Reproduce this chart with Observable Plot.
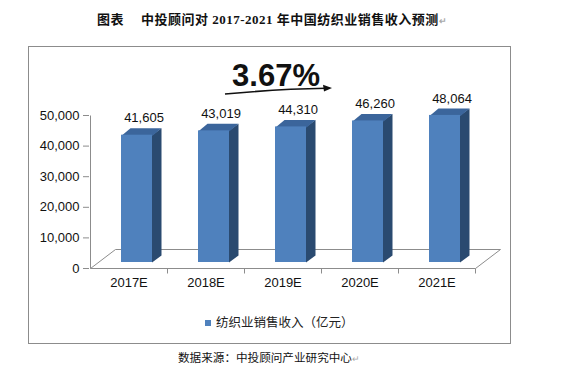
<!DOCTYPE html>
<html>
<head>
<meta charset="utf-8">
<script src="https://cdn.jsdelivr.net/npm/d3@7"></script>
<script src="https://cdn.jsdelivr.net/npm/@observablehq/plot@0.6"></script>
<style>
  html, body { margin: 0; padding: 0; background: #fff; }
  #wrap { position: relative; width: 577px; height: 384px; background: #fff; overflow: hidden; }
  .title { position: absolute; left: 97px; top: 11px; height: 17px; line-height: 17px; white-space: nowrap; letter-spacing: 0.5px;
           font-family: "Liberation Serif", "Noto Sans CJK SC", serif; font-weight: bold; font-size: 13px; color: #111; }
  .box { position: absolute; left: 28px; top: 46px; width: 481px; height: 296px; border: 1px solid #8c8c8c; }
  #chart { position: absolute; left: 0; top: 34px; }
  .legend { position: absolute; left: 205px; top: 313px; height: 18px; line-height: 18px; white-space: nowrap;
            font-family: "Noto Sans CJK SC", sans-serif; font-size: 12.5px; color: #222; }
  .legend .sw { display: inline-block; width: 6px; height: 6px; background: #4f81bd; margin-right: 5px; vertical-align: 1px; }
  .caption { position: absolute; left: 178px; top: 348px; height: 18px; line-height: 18px; white-space: nowrap;
             font-family: "Noto Sans CJK SC", sans-serif; font-size: 11.6px; color: #111; }
  .pm { color: #aaa; font-size: 9px; letter-spacing: 0; }
</style>
</head>
<body>
<div id="wrap">
  <div class="title">图表<span style="display:inline-block;width:17px"></span>中投顾问对 2017-2021 年中国纺织业销售收入预测<span class="pm">↵</span></div>
  <div class="box"></div>
  <div id="chart"></div>
  <div class="legend"><span class="sw"></span><span id="legtext"></span></div>
  <div class="caption">数据来源：中投顾问产业研究中心<span class="pm">↵</span></div>
</div>
<script>
// ---- data ----
const categories = ["2017E", "2018E", "2019E", "2020E", "2021E"];
const revenue = [41605, 43019, 44310, 46260, 48064];
const yTicks = [0, 10000, 20000, 30000, 40000, 50000];
const seriesName = "纺织业销售收入（亿元）";

document.getElementById("legtext").textContent = seriesName;

const data = categories.map((c, i) => ({cat: c, value: revenue[i]}));
const cagr = Math.pow(revenue[revenue.length - 1] / revenue[0], 1 / (revenue.length - 1)) - 1;
const cagrLabel = (cagr * 100).toFixed(2) + "%";

// ---- styling ----
const FRONT = "#4f81bd", SIDE = "#2a4a70", TOP = "#3b659b";
const INSET = 23, BAR_DX = 8, BAR_DY = -6, DEP_X = 9, DEP_Y = -7;
const FLOOR_X = 25, FLOOR_Y = -19;
const LINE = "#8c8c8c";
const off = 0.5;

function bandwidthOf(x, dims) {
  return typeof x.bandwidth === "function" ? x.bandwidth()
    : (dims.width - dims.marginLeft - dims.marginRight) / categories.length;
}

// floor + axis lines
function floorMark(index, scales, values, dims) {
  const x = scales.x, y = scales.y;
  const bw = bandwidthOf(x, dims);
  const x0 = x(categories[0]), x1 = x(categories[categories.length - 1]) + bw;
  const y0 = y(0);
  const g = d3.create("svg:g").attr("fill", "none").attr("stroke", LINE).attr("stroke-width", 1)
    .attr("transform", `translate(${off},${off})`);
  g.append("path").attr("d",
    `M${x0},${y0}L${x0 + FLOOR_X},${y0 + FLOOR_Y}L${x1 + FLOOR_X},${y0 + FLOOR_Y}L${x1},${y0}`);
  g.append("path").attr("d", `M${x0},${y(yTicks[yTicks.length - 1])}L${x0},${y0}L${x1},${y0}`);
  categories.forEach(c => {
    const xe = x(c) + bw;
    g.append("path").attr("d", `M${xe},${y0}L${xe},${y0 + 5}`);
  });
  return g.node();
}

// 3D side + top faces
function depthFaces(index, scales, values, dims) {
  const x = scales.x, y = scales.y;
  const bw = bandwidthOf(x, dims);
  const g = d3.create("svg:g").attr("transform", `translate(${off},${off})`);
  data.forEach(d => {
    const L = x(d.cat) + INSET + BAR_DX, R = x(d.cat) + bw - INSET + BAR_DX;
    const yb = y(0) + BAR_DY, yt = y(d.value) + BAR_DY;
    g.append("path").attr("fill", SIDE)
      .attr("d", `M${R - 0.5},${yb}L${R + DEP_X},${yb + DEP_Y}L${R + DEP_X},${yt + DEP_Y}L${R - 0.5},${yt}Z`);
    g.append("path").attr("fill", TOP)
      .attr("d", `M${L},${yt + 0.5}L${L + DEP_X},${yt + DEP_Y}L${R + DEP_X},${yt + DEP_Y}L${R},${yt + 0.5}Z`);
  });
  return g.node();
}

// growth arrow
function growthArrow(index, scales, values, dims) {
  const ax = dims.marginLeft + 136, ay = dims.marginTop - 21;
  const bx = dims.marginLeft + 243, by = dims.marginTop - 27;
  const g = d3.create("svg:g");
  const mx = (ax + bx) / 2, my = (ay + by) / 2 - 2;
  g.append("path").attr("d", `M${ax},${ay}Q${mx},${my} ${bx - 6},${by + 0.3}`)
    .attr("fill", "none").attr("stroke", "#111").attr("stroke-width", 1.6);
  g.append("path").attr("d", `M${bx},${by}L${bx - 9},${by - 3.2}L${bx - 8},${by + 3.6}Z`).attr("fill", "#111");
  return g.node();
}

const chart = Plot.plot({
  width: 577,
  height: 276,
  marginLeft: 89,
  marginRight: 102,
  marginTop: 81,
  marginBottom: 42,
  style: {fontFamily: "'Liberation Sans', Arial, sans-serif", fontSize: "13px", color: "#111", background: "transparent"},
  x: {type: "band", domain: categories, padding: 0, axis: null},
  y: {domain: [0, 50000], axis: null},
  marks: [
    floorMark,
    Plot.axisY(yTicks, {tickFormat: d3.format(","), tickSize: 6, tickPadding: 4, stroke: LINE, fill: "#111", fontSize: 13, label: null}),
    Plot.axisX({tickSize: 0, tickPadding: 9, fill: "#111", fontSize: 13, label: null}),
    depthFaces,
    Plot.barY(data, {x: "cat", y: "value", fill: FRONT, insetLeft: INSET, insetRight: INSET, dx: BAR_DX, dy: BAR_DY}),
    Plot.text(data, {x: "cat", y: "value", text: d => d3.format(",")(d.value), dx: 15, dy: -23, fontSize: 13, fill: "#111"}),
    Plot.text([cagrLabel], {frameAnchor: "top-left", lineAnchor: "middle", text: d => d, dx: 186.5, dy: -39, fontSize: 31, fontWeight: "bold", textAnchor: "middle", fill: "#111"}),
    growthArrow
  ]
});
document.getElementById("chart").appendChild(chart);
</script>
</body>
</html>
